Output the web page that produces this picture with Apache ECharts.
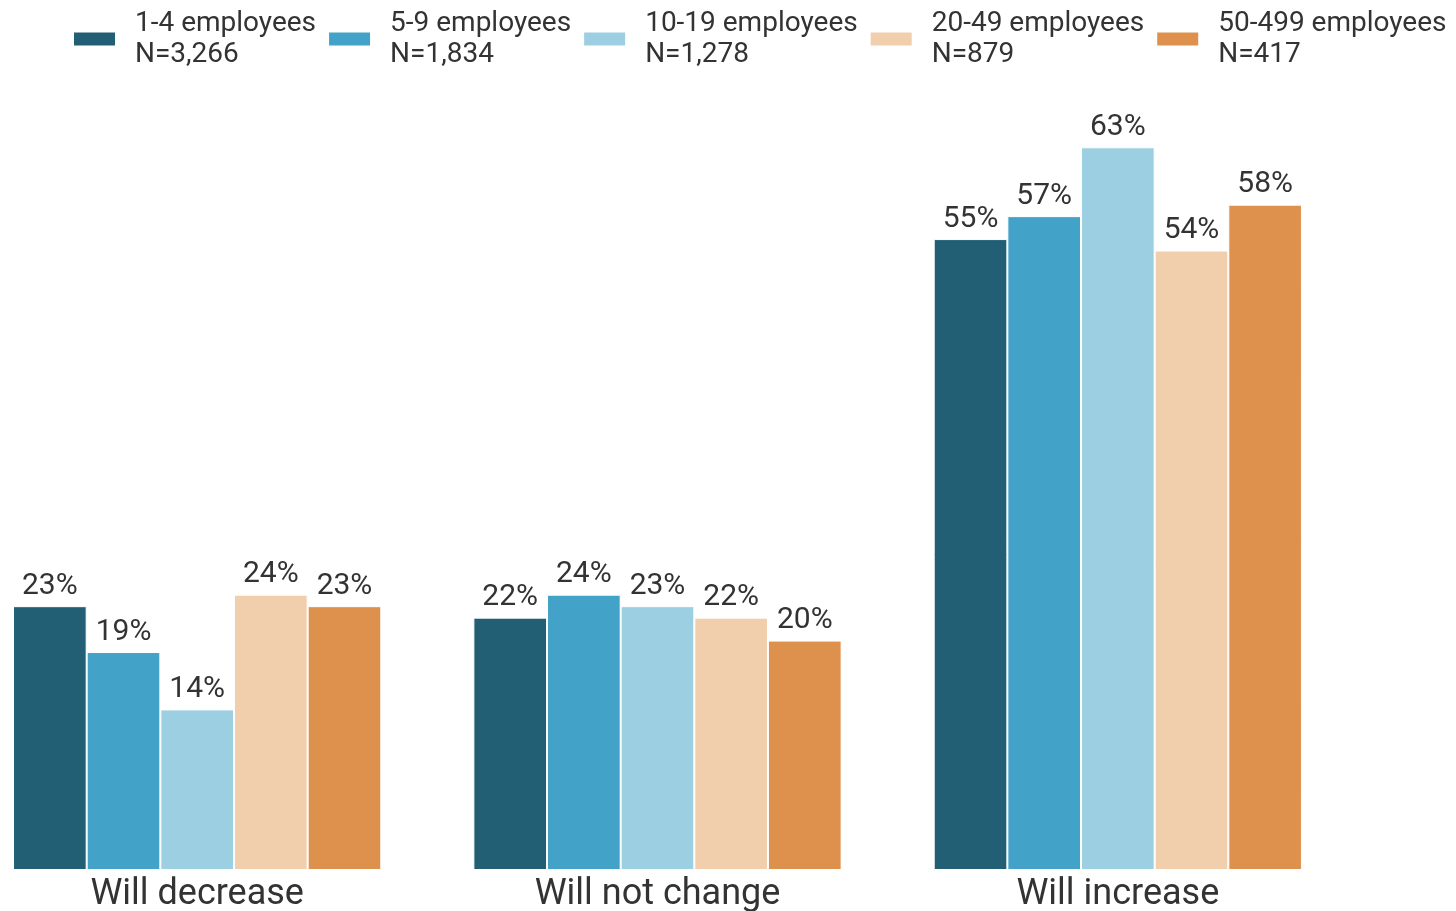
<!DOCTYPE html>
<html><head><meta charset="utf-8">
<script src="https://cdn.jsdelivr.net/npm/echarts@6/dist/echarts.min.js"></script>
<style>html,body{margin:0;padding:0;background:#fff;overflow:hidden}#c{position:absolute;left:-33px;top:0;width:1600px;height:911px}</style>
</head><body><div id="c"></div>
<script>
const categories = ['Will decrease', 'Will not change', 'Will increase'];
const seriesNames = ['1-4 employees\nN=3,266', '5-9 employees\nN=1,834', '10-19 employees\nN=1,278', '20-49 employees\nN=879', '50-499 employees\nN=417'];
const emp1to4 = [23, 22, 55];
const emp5to9 = [19, 24, 57];
const emp10to19 = [14, 23, 63];
const emp20to49 = [24, 22, 54];
const emp50to499 = [23, 20, 58];
const colors = ['#225f75', '#42a2c7', '#9dcfe2', '#f1ceac', '#de914c'];
const allValues = [emp1to4, emp5to9, emp10to19, emp20to49, emp50to499];

const chart = echarts.init(document.getElementById('c'), null, {renderer: 'canvas'});
chart.setOption({
  animation: false,
  color: colors,
  textStyle: {fontFamily: 'Roboto'},
  legend: {
    left: 105, top: 5, padding: 0,
    itemWidth: 43, itemHeight: 15, itemGap: 11,
    icon: 'rect',
    textStyle: {fontFamily: 'Roboto', fontSize: 28, color: '#333', lineHeight: 31, padding: [0, 0, 6, 14]},
    data: seriesNames
  },
  grid: {left: 0, width: 1381, top: 67, height: 803, containLabel: false, outerBoundsMode: 'none'},
  xAxis: {
    type: 'category', data: categories,
    axisLine: {show: false}, axisTick: {show: false},
    axisLabel: {fontFamily: 'Roboto', fontSize: 36, color: '#333', margin: 7}
  },
  yAxis: {type: 'value', min: 0, max: 70, show: false, splitLine: {show: false}},
  series: allValues.map((vals, i) => ({
    type: 'bar', name: seriesNames[i], data: vals,
    barGap: '0%', barCategoryGap: '20%',
    itemStyle: {borderColor: '#ffffff', borderWidth: 1},
    label: {show: true, position: 'top', distance: 5, formatter: '{c}%', fontFamily: 'Roboto', fontSize: 30, color: '#333'}
  }))
});
</script></body></html>
